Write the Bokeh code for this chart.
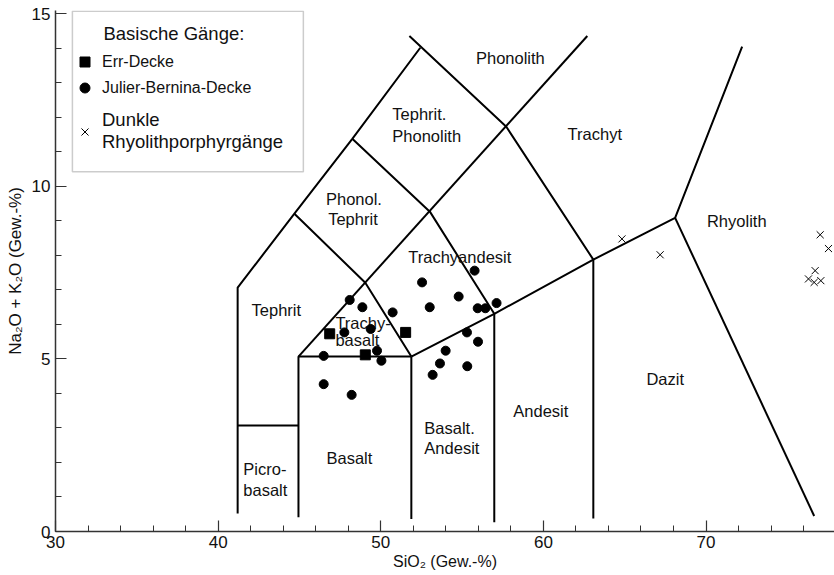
from bokeh.plotting import figure
from bokeh.models import (Range1d, SingleIntervalTicker, ColumnDataSource, Legend,
                          LegendItem, BoxAnnotation, Label, Title)
from bokeh.core.properties import value
from bokeh.embed import file_html
from bokeh.resources import INLINE

FONT = "Liberation Sans"

# ---- Data: samples (SiO2, Na2O+K2O) ----
err_sio2 = [46.86, 51.53, 49.05]
err_alk = [5.73, 5.77, 5.12]

jb_sio2 = [55.77, 52.54, 54.79, 53.01, 55.96, 56.43, 57.12, 50.73, 48.09, 48.87, 47.76, 49.38,
           49.77, 50.04, 46.49, 46.49, 48.21, 55.30, 55.98, 53.99, 53.64, 55.32, 53.19]
jb_alk = [7.56, 7.22, 6.81, 6.50, 6.47, 6.47, 6.62, 6.35, 6.71, 6.50, 5.77, 5.87,
          5.24, 4.95, 5.09, 4.27, 3.96, 5.77, 5.50, 5.24, 4.87, 4.79, 4.54]

rhy_sio2 = [64.83, 67.18, 77.02, 77.53, 76.71, 76.30, 76.65, 77.06]
rhy_alk = [8.48, 8.02, 8.60, 8.20, 7.56, 7.32, 7.22, 7.27]

# ---- TAS field boundaries (polylines) ----
bound_x = [
    [41.2, 41.2, 44.69, 48.25, 52.43],
    [41.2, 44.94],
    [44.94, 44.94, 51.88],
    [51.88, 51.88],
    [51.88, 56.98, 63.07, 68.1, 72.22],
    [56.98, 56.98],
    [63.07, 63.07],
    [68.1, 76.65],
    [44.94, 62.70],
    [44.69, 49.05, 51.88],
    [48.25, 53.02, 56.98],
    [51.76, 57.72, 63.07],
]
bound_y = [
    [0.52, 7.07, 9.21, 11.38, 14.02],
    [3.07, 3.07],
    [0.41, 5.07, 5.07],
    [0.36, 5.07],
    [5.07, 6.31, 7.88, 9.09, 14.05],
    [0.27, 6.31],
    [0.38, 7.88],
    [9.09, 0.45],
    [5.07, 14.36],
    [9.21, 7.21, 5.07],
    [11.38, 9.27, 6.31],
    [14.36, 11.73, 7.88],
]

# ---- Field names ----
center_names = ["Phonolith", "Trachyt", "Phonol.", "Tephrit", "Trachyandesit", "Tephrit",
                "Basalt", "Andesit", "Dazit", "Rhyolith"]
center_x = [57.97, 63.16, 48.35, 48.29, 54.86, 43.58, 48.07, 59.84, 67.49, 71.89]
center_y = [13.73, 11.53, 9.64, 9.06, 7.96, 6.43, 2.14, 3.50, 4.43, 9.01]

left_names = ["Tephrit.", "Phonolith", "Trachy-", "basalt", "Picro-", "basalt", "Basalt.", "Andesit"]
left_x = [50.71, 50.71, 47.21, 47.21, 41.55, 41.55, 52.68, 52.68]
left_y = [12.11, 11.47, 6.05, 5.56, 1.82, 1.19, 3.01, 2.43]

p = figure(width=834, height=575, output_backend="svg", toolbar_location=None,
           x_range=Range1d(30, 77.9), y_range=Range1d(0, 15.1),
           min_border_left=55, min_border_top=10, min_border_right=0, min_border_bottom=44,
           y_axis_label="Na₂O + K₂O (Gew.-%)")
p.outline_line_color = None
p.xgrid.visible = False
p.ygrid.visible = False

p.xaxis.ticker = SingleIntervalTicker(interval=10, num_minor_ticks=5)
p.yaxis.ticker = SingleIntervalTicker(interval=5, num_minor_ticks=5)
for ax in (p.xaxis, p.yaxis):
    ax.axis_line_color = "#333333"
    ax.axis_line_width = 1.5
    ax.major_tick_line_color = "#333333"
    ax.minor_tick_line_color = "#333333"
    ax.major_tick_line_width = 1.2
    ax.minor_tick_line_width = 1.0
    ax.major_tick_out = 0
    ax.minor_tick_out = 0
    ax.major_tick_in = 11
    ax.minor_tick_in = 6
    ax.major_label_text_font = FONT
    ax.major_label_text_font_size = "17px"
    ax.major_label_text_color = "#111111"
    ax.axis_label_text_font = FONT
    ax.axis_label_text_font_size = "17px"
    ax.axis_label_text_font_style = "normal"
    ax.axis_label_text_color = "#111111"
    ax.axis_label_standoff = 4
p.xaxis.major_label_standoff = 4
p.yaxis.major_label_standoff = 5

# x axis title below, shifted to sit under SiO2 ~ 55 as in the original
p.add_layout(Title(text="SiO₂ (Gew.-%)", align="center", offset=18, standoff=0,
                   text_font=FONT, text_font_size="16px", text_font_style="normal",
                   text_color="#111111"), "below")

p.multi_line(xs=bound_x, ys=bound_y, line_color="black", line_width=2)

src_c = ColumnDataSource(dict(x=center_x, y=center_y, t=center_names))
p.text(x="x", y="y", text="t", source=src_c, text_font=value(FONT), text_font_size="16.5px",
       text_align="center", text_baseline="middle", text_color="#111111")
src_l = ColumnDataSource(dict(x=left_x, y=left_y, t=left_names))
p.text(x="x", y="y", text="t", source=src_l, text_font=value(FONT), text_font_size="16.5px",
       text_align="left", text_baseline="middle", text_color="#111111")

r_err = p.scatter(err_sio2, err_alk, marker="square", size=10, color="black")
r_jb = p.scatter(jb_sio2, jb_alk, marker="circle", size=9, color="black")
r_rhy = p.scatter(rhy_sio2, rhy_alk, marker="x", size=10, line_color="black", line_width=1)

# legend frame and header
box = BoxAnnotation(left=31.04, right=45.24, top=15.08, bottom=10.43, fill_color="white",
                    fill_alpha=1, line_color="#555555", line_width=1.5, level="overlay")
p.add_layout(box)
p.add_layout(Label(x=32.95, y=14.42, text="Basische Gänge:", text_font=FONT,
                   text_font_size="18.5px", text_baseline="middle", text_color="#111111",
                   level="overlay"))

legA = Legend(items=[LegendItem(label="Err-Decke", renderers=[r_err]),
                     LegendItem(label="Julier-Bernina-Decke", renderers=[r_jb])],
              location=(17, 431), glyph_width=25, glyph_height=25, label_standoff=5,
              spacing=1, padding=0, margin=0, border_line_alpha=0, background_fill_alpha=0,
              label_text_font=FONT, label_text_font_size="16px", label_text_color="#111111")
legB = Legend(items=[LegendItem(label="Dunkle\nRhyolithporphyrgänge", renderers=[r_rhy])],
              location=(17, 378), glyph_width=25, glyph_height=25, label_standoff=5,
              padding=0, margin=0, border_line_alpha=0, background_fill_alpha=0,
              label_text_font=FONT, label_text_font_size="18.5px", label_text_color="#111111",
              label_text_line_height=1.7)
p.add_layout(legA)
p.add_layout(legB)

open("out.html", "w").write(file_html(p, INLINE))
